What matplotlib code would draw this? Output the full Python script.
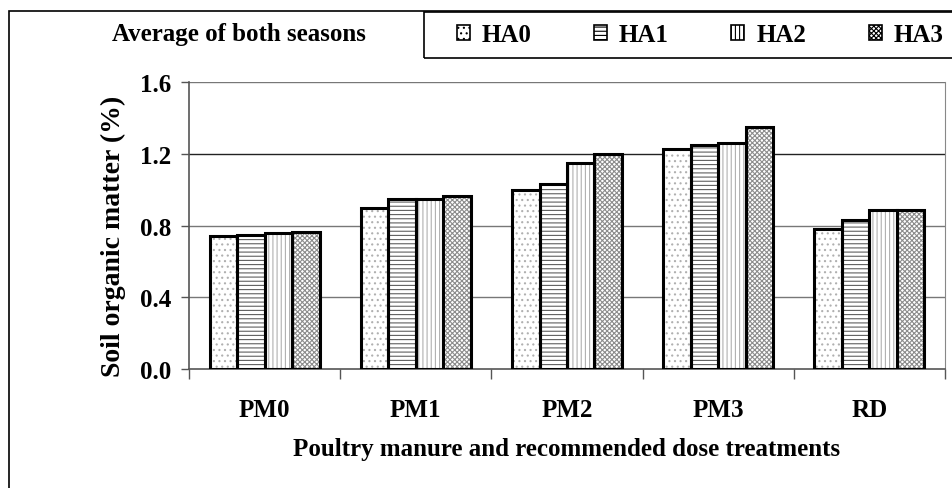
import matplotlib
matplotlib.use("Agg")
import matplotlib.pyplot as plt
import numpy as np
from matplotlib.patches import Rectangle, Patch

categories = ["PM0", "PM1", "PM2", "PM3", "RD"]
series_names = ["HA0", "HA1", "HA2", "HA3"]
ha0 = [0.74, 0.90, 1.00, 1.23, 0.78]
ha1 = [0.75, 0.95, 1.03, 1.25, 0.83]
ha2 = [0.76, 0.95, 1.15, 1.26, 0.89]
ha3 = [0.765, 0.965, 1.20, 1.35, 0.89]
yticks = [0.0, 0.4, 0.8, 1.2, 1.6]

series = [ha0, ha1, ha2, ha3]
hatches = ["...", "----", "||||", "xxxxxxx"]
hatch_cols = ["#b0b0b0", "#606060", "#b0b0b0", "#8c8c8c"]

plt.rcParams["font.family"] = ["Liberation Serif", "DejaVu Serif"]
plt.rcParams["font.weight"] = "bold"
plt.rcParams["hatch.linewidth"] = 0.8

FS = 18
W, H = 952, 489
fig = plt.figure(figsize=(W / 100, H / 100), dpi=100)

def fx(x):
    return x / W

def fy(y):
    return 1 - y / H

ax = fig.add_axes([fx(189), fy(370), fx(945) - fx(189), fy(83.3) - fy(370)])

x = np.arange(len(categories))
group = 0.727
bw = group / 4
for i, vals in enumerate(series):
    pos = x - group / 2 + bw * (i + 0.5)
    ax.bar(pos, vals, width=bw, color="white", edgecolor=hatch_cols[i],
           hatch=hatches[i], linewidth=0, zorder=2)
    ax.bar(pos, vals, width=bw, fill=False, edgecolor="black",
           linewidth=2.2, zorder=3)

ax.set_xlim(-0.5, len(categories) - 0.5)
ax.set_ylim(0, 1.6)
ax.set_yticks(yticks)
ax.set_yticklabels([f"{v:.1f}" for v in yticks], fontsize=FS, fontweight="bold")
ax.set_xticks(x)
ax.set_xticklabels(categories, fontsize=FS, fontweight="bold")
ax.set_xticks(np.arange(len(categories) + 1) - 0.5, minor=True)
ax.tick_params(axis="x", which="major", length=0, pad=21)
ax.tick_params(axis="x", which="minor", length=7, width=1, color="#555555")
ax.tick_params(axis="y", length=6, width=1, color="#555555", pad=7)
for v in yticks[1:]:
    ax.axhline(v, color="#777777" if v != 1.2 else "#222222", lw=1, zorder=1)
for s in ["left", "bottom"]:
    ax.spines[s].set_color("#555555")
    ax.spines[s].set_linewidth(1.2)
ax.spines["right"].set_color("#888888")
ax.spines["top"].set_visible(False)

ax.set_ylabel("Soil organic matter (%)", fontsize=20, fontweight="bold")
ax.yaxis.set_label_coords((113 - 189) / 756, (370 - 236) / 286.7)
ax.yaxis.label.set_va("center")
ax.set_xlabel("Poultry manure and recommended dose treatments", fontsize=FS,
              fontweight="bold")
ax.xaxis.set_label_coords(0.5, (370 - 450) / 286.7)
ax.xaxis.label.set_va("center")

# outer frame
fig.patches.append(Rectangle((fx(9), fy(495)), fx(960) - fx(9), fy(12) - fy(495),
                             transform=fig.transFigure, fill=False,
                             edgecolor="black", lw=1.2))
# legend box
fig.patches.append(Rectangle((fx(424), fy(59)), fx(960) - fx(424), fy(13) - fy(59),
                             transform=fig.transFigure, fill=False,
                             edgecolor="black", lw=1.2))
fig.text(fx(112), fy(35), "Average of both seasons", fontsize=FS,
         fontweight="bold", ha="left", va="center")

handles = [Patch(facecolor="white", edgecolor="black", hatch=hatches[i], lw=1.2)
           for i in range(4)]
fig.legend(handles, series_names, loc="center left", ncol=4,
           bbox_to_anchor=(fx(444), fy(36)), frameon=False, borderpad=0,
           prop={"size": FS, "weight": "bold"}, handlelength=0.52,
           handleheight=0.52, handletextpad=0.48, columnspacing=2.5)

fig.savefig("out.png", dpi=100)
